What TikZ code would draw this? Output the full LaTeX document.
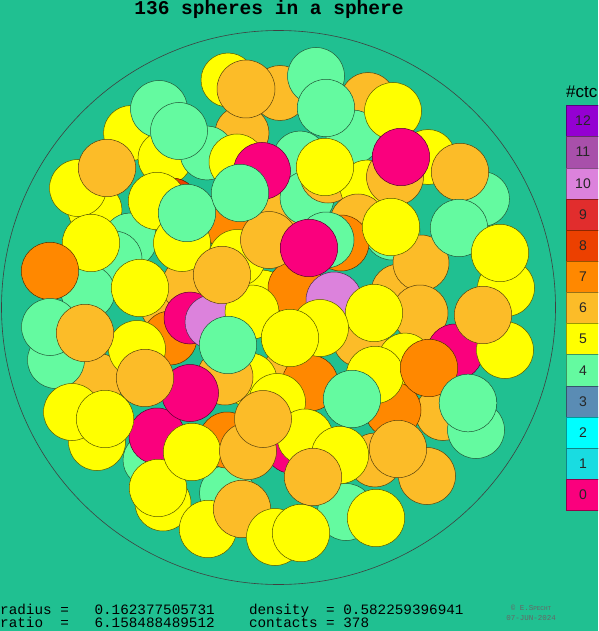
\documentclass[tikz,border=0pt]{standalone}
\usepackage{fontspec}
\newfontfamily\monof{Liberation Mono}
\newfontfamily\sansf{Liberation Sans}
\definecolor{bg}{RGB}{32,192,145}
\definecolor{kzero}{RGB}{250,0,125}
\definecolor{kone}{RGB}{25,220,225}
\definecolor{ktwo}{RGB}{0,255,255}
\definecolor{kthree}{RGB}{90,140,180}
\definecolor{kfour}{RGB}{100,250,160}
\definecolor{kfive}{RGB}{255,255,0}
\definecolor{ksix}{RGB}{252,188,40}
\definecolor{kseven}{RGB}{255,136,0}
\definecolor{keight}{RGB}{236,64,0}
\definecolor{knine}{RGB}{225,45,45}
\definecolor{kten}{RGB}{220,130,220}
\definecolor{keleven}{RGB}{168,80,170}
\definecolor{ktwelve}{RGB}{148,0,210}
\makeatletter
\pgfdeclareradialshading[tikz@ball]{softball}{\pgfqpoint{0bp}{0bp}}{color(0bp)=(tikz@ball); color(30bp)=(tikz@ball); color(50bp)=(tikz@ball!86!black)}
\makeatother
\newcommand\B[4]{\shade[ball color=#1, shading=softball] (#2,#3) circle (#4pt);
  \draw[#1!35!black, line width=0.5pt] (#2,#3) circle (#4pt);}
\tikzset{legbox/.style={draw=#1!60!black, line width=0.5pt, fill=#1},
  legnum/.style={font=\sansf\fontsize{14}{14}\selectfont, text=black!85}}
\begin{document}
\begin{tikzpicture}[x=1pt,y=-1pt]
\useasboundingbox (0,0) rectangle (598,631);
\clip (0,0) rectangle (598,631);
\fill[bg] (0,0) rectangle (598,631);
\node[font=\monof\bfseries\fontsize{19.5}{19.5}\selectfont, anchor=base, inner sep=0pt] (title) at (269,14.5) {136 spheres in a sphere};
\draw[black!75, line width=0.6pt] (278.5,307.5) circle (277pt);
% back layer
\B{kfive}{228}{80}{27}
\B{ksix}{280}{93}{27.5}
\B{ksix}{242}{133}{27}
\B{ksix}{368}{100}{27.5}
\B{kfour}{353}{137}{27}
\B{kfive}{428}{157}{27.5}
\B{kfour}{482}{199}{27.5}
\B{kfive}{131}{133}{27.5}
\B{kfive}{165}{158}{27}
\B{kfour}{207}{153}{27}
\B{kfour}{300}{158}{27}
\B{ksix}{288}{207}{27}
\B{kfour}{307}{198}{27}
\B{ksix}{328}{175}{28}
\B{kfive}{367}{187}{27}
\B{ksix}{358}{222}{28}
\B{kfour}{392}{232}{28}
\B{kseven}{341}{243}{28}
\B{kfour}{326}{240}{28}
\B{keight}{172}{205}{27}
\B{kfive}{95}{210}{27}
\B{kfour}{130}{240}{27}
\B{kfour}{114}{259}{28}
\B{kfour}{88}{292}{27}
\B{ksix}{168}{305}{28}
\B{ksix}{190}{285}{28}
\B{kseven}{233}{227}{27}
\B{kfive}{262}{297}{27}
\B{kseven}{296}{288}{28}
\B{kten}{334}{300}{28}
\B{kfive}{506}{288}{28.5}
\B{ksix}{399}{292}{28}
\B{ksix}{421}{263}{28}
\B{ksix}{420}{313}{28}
\B{kseven}{170}{338}{27}
\B{kzero}{190}{318}{26}
\B{kten}{212}{322}{27}
\B{kfive}{252}{312}{27}
\B{ksix}{360}{340}{27}
\B{kfive}{405}{360}{27}
\B{kzero}{455}{352}{28}
\B{ksix}{443}{413}{27.5}
\B{kfour}{476}{430}{28.5}
\B{kseven}{393}{410}{28}
\B{ksix}{290}{372}{27}
\B{kseven}{310}{383}{28}
\B{kfive}{250}{380}{27}
\B{ksix}{225}{377}{28}
\B{kfive}{277}{402}{28.5}
\B{kzero}{292}{446}{27.5}
\B{kfive}{305}{437}{28}
\B{ksix}{375}{460}{27}
\B{ksix}{427}{476}{28.5}
\B{kfour}{346}{512}{28.5}
\B{kfive}{163}{503}{28}
\B{kfour}{227}{493}{27.5}
\B{kfour}{150}{460}{27}
\B{ksix}{97}{380}{27}
\B{kfive}{97}{442}{28.5}
\B{kseven}{227}{440}{28}
% front layer
\B{kfour}{316}{76}{28.5}
\B{ksix}{246}{89}{29}
\B{kfour}{326}{108}{28.7}
\B{kfive}{393}{111}{28.5}
\B{kfour}{159}{109}{28.5}
\B{kfour}{179}{131}{28.5}
\B{kfive}{78}{188}{28.5}
\B{ksix}{107}{168}{28.7}
\B{kfive}{157}{201}{28.7}
\B{kfive}{182}{243}{28.5}
\B{kfour}{187}{213}{28.7}
\B{kfive}{91}{243}{28.7}
\B{kseven}{50}{271}{28.7}
\B{kfive}{140}{288}{28.7}
\B{kfive}{237}{162}{28}
\B{kzero}{262}{171}{28.5}
\B{kfive}{237}{258}{28.5}
\B{ksix}{269}{240}{28.5}
\B{kfour}{240}{193}{28.7}
\B{ksix}{222}{275}{28.7}
\B{kzero}{309}{248}{28.7}
\B{kfive}{325}{167}{28.7}
\B{ksix}{395}{177}{28.5}
\B{kzero}{401}{157}{28.7}
\B{ksix}{460}{172}{28.7}
\B{kfive}{391}{227}{28.7}
\B{kfour}{459}{228}{28.7}
\B{kfive}{500}{253}{28.7}
\B{kfive}{505}{350}{28.5}
\B{ksix}{483}{315}{28.7}
\B{kfive}{374}{313}{28.7}
\B{kfive}{320}{328}{28.5}
\B{kfive}{290}{338}{28.7}
\B{kfour}{228}{345}{28.7}
\B{kfive}{137}{349}{28.5}
\B{kfour}{56}{360}{28.5}
\B{kfour}{50}{327}{28.5}
\B{ksix}{85}{333}{28.7}
\B{kzero}{157}{436}{28}
\B{kzero}{190}{393}{28.5}
\B{ksix}{145}{378}{28.7}
\B{kfive}{72}{412}{28.5}
\B{kfive}{105}{419}{28.7}
\B{kfive}{158}{488}{28.7}
\B{kfive}{192}{452}{28.7}
\B{ksix}{248}{451}{28.5}
\B{ksix}{263}{419}{28.5}
\B{kfive}{208}{529}{28.7}
\B{ksix}{242}{509}{28.7}
\B{kfive}{275}{537}{28.5}
\B{kfive}{301}{533}{28.7}
\B{kfive}{376}{518}{28.7}
\B{kfive}{340}{455}{28.7}
\B{ksix}{313}{477}{28.7}
\B{ksix}{398}{449}{28.7}
\B{kfive}{375}{375}{28.7}
\B{kseven}{429}{368}{28.7}
\B{kfour}{352}{399}{28.7}
\B{kfour}{468}{403}{28.8}
% legend
\node[font=\sansf\fontsize{17}{17}\selectfont, anchor=base west, inner sep=0pt] (ctc) at (566,98) {\#ctc};
\foreach \n/\c [count=\i from 0] in {12/ktwelve,11/keleven,10/kten,9/knine,8/keight,7/kseven,6/ksix,5/kfive,4/kfour,3/kthree,2/ktwo,1/kone,0/kzero}{
  \draw[legbox=\c] (566.5,105.5+31.15*\i) rectangle (610,105.5+31.15*\i+31.15);
  \node[legnum] (leg\n) at (583,121+31.15*\i) {\n};
}
% bottom text
\node[font=\monof\fontsize{14.3}{14.3}\selectfont, anchor=base west, inner sep=0pt] (line1) at (0,614) {radius =\ \ \ 0.162377505731\ \ \ \ density\ \ = 0.582259396941};
\node[font=\monof\fontsize{14.3}{14.3}\selectfont, anchor=base west, inner sep=0pt] (line2) at (0,627.5) {ratio\ \ =\ \ \ 6.158488489512\ \ \ \ contacts = 378};
\node[font=\monof\fontsize{7.5}{7.5}\selectfont, text=black!60, anchor=base, inner sep=0pt] (copy) at (531,610) {© E.S{\fontsize{6}{6}\selectfont PECHT}};
\node[font=\monof\fontsize{7.5}{7.5}\selectfont, text=black!60, anchor=base, inner sep=0pt] (date) at (531,620) {07-JUN-2024};
\end{tikzpicture}
\end{document}
